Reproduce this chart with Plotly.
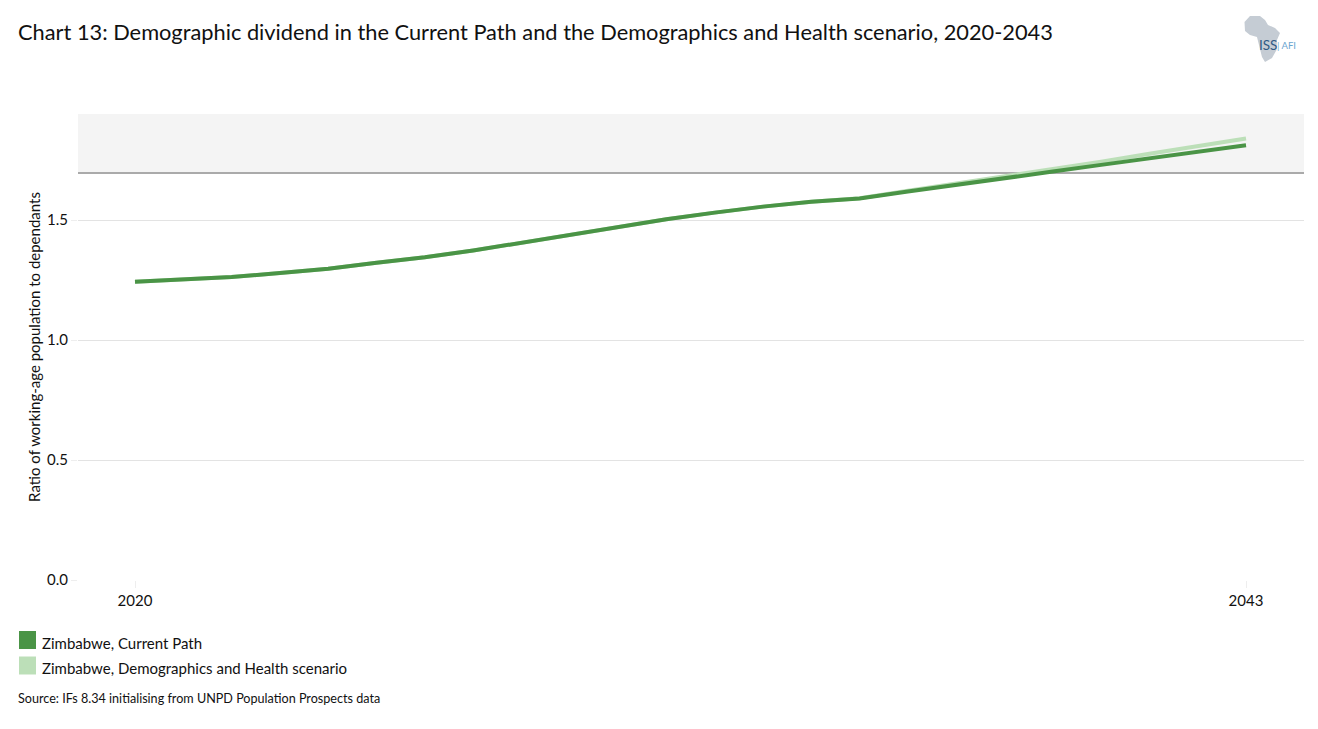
import plotly.graph_objects as go

years = list(range(2020, 2044))
current_path = [1.243, 1.253, 1.263, 1.279, 1.297, 1.322, 1.345, 1.373, 1.406, 1.439, 1.472, 1.503,
                1.531, 1.556, 1.576, 1.590, 1.619, 1.648, 1.674, 1.702, 1.730, 1.757, 1.784, 1.812]
demo_health = [1.243, 1.253, 1.263, 1.279, 1.297, 1.322, 1.345, 1.373, 1.406, 1.439, 1.472, 1.503,
               1.531, 1.556, 1.576, 1.591, 1.622, 1.652, 1.681, 1.711, 1.743, 1.776, 1.808, 1.840]
y_ticks = [0, 0.5, 1.0, 1.5]
y_labels = ["0.0", "0.5", "1.0", "1.5"]
x_ticks = [2020, 2043]
threshold = 1.696
names = ["Zimbabwe, Current Path", "Zimbabwe, Demographics and Health scenario"]
title = "Chart 13: Demographic dividend in the Current Path and the Demographics and Health scenario, 2020-2043"
source = "Source: IFs 8.34 initialising from UNPD Population Prospects data"
y_title = "Ratio of working-age population to dependants"

W, H = 1318, 729
L, R, T, B = 78, 1304, 114, 580
FONT = "Lato"
DARK, LIGHT = "#4a9446", "#bcdfb8"
Y_MAX = 1.942


def px(x):
    return (x - L) / (R - L)


def py(y):
    return (B - y) / (B - T)


fig = go.Figure()
fig.add_trace(go.Scatter(x=years, y=demo_health, name=names[1], mode="lines",
                         line=dict(color=LIGHT, width=4)))
fig.add_trace(go.Scatter(x=years, y=current_path, name=names[0], mode="lines",
                         line=dict(color=DARK, width=4)))

shapes = [
    dict(type="rect", xref="paper", yref="y", x0=0, x1=1, y0=threshold, y1=Y_MAX,
         fillcolor="#f4f4f4", line_width=0, layer="below"),
    dict(type="line", xref="paper", yref="y", x0=0, x1=1, y0=threshold, y1=threshold,
         line=dict(color="#aaaaaa", width=2), layer="below"),
]
for i, c in enumerate([DARK, LIGHT]):
    y0 = 631 + i * 25.5
    shapes.append(dict(type="rect", xref="paper", yref="paper", x0=px(19), x1=px(36), y0=py(y0), y1=py(y0 + 18),
                       fillcolor=c, line_width=0))

africa = [(1244.5, 22), (1250, 16), (1260, 16), (1265, 20), (1268, 25), (1275, 28), (1280, 33), (1277, 40),
          (1276.5, 50), (1272, 58), (1265, 62), (1262, 57), (1259, 45), (1257, 37), (1250, 35), (1245, 31)]
path = "M " + " L ".join(f"{px(a):.5f},{py(b):.5f}" for a, b in africa) + " Z"
shapes.append(dict(type="path", xref="paper", yref="paper", path=path, fillcolor="#c5ccd4", line_width=0))


def note(text, x, y, size, color="#111111", **kw):
    return dict(text=text, xref="paper", yref="paper", x=px(x), y=py(y), showarrow=False, xanchor="left",
                yanchor="middle", font=dict(family=FONT, size=size, color=color), **kw)


annotations = [
    note(title, 16, 31, 21.8),
    note(names[0], 40, 643, 15),
    note(names[1], 40, 668, 15),
    note(source, 16, 698.5, 12.6),
    note("ISS", 1257, 45, 13.5, "#2f5a85"),
    note("| AFI", 1275, 45, 9.5, "#6ba6d0"),
]

fig.update_layout(
    width=W, height=H, autosize=False,
    margin=dict(l=L, r=W - R, t=T, b=H - B),
    paper_bgcolor="white", plot_bgcolor="white",
    showlegend=False,
    font=dict(family=FONT, size=14, color="#111111"),
    shapes=shapes, annotations=annotations,
    xaxis=dict(range=[2018.82, 2044.2], tickvals=x_ticks, ticktext=[str(v) for v in x_ticks], showgrid=False,
               zeroline=False, ticks="outside", ticklen=7, tickcolor="#eeeeee", showline=False,
               tickfont=dict(size=15, family=FONT)),
    yaxis=dict(range=[0, Y_MAX], tickvals=y_ticks, ticktext=y_labels, gridcolor="#e3e3e3", gridwidth=1,
               zeroline=True, zerolinecolor="white", ticks="outside", ticklen=6, tickcolor="#eeeeee",
               tickfont=dict(size=15, family=FONT),
               title=dict(text=y_title, font=dict(size=15, family=FONT), standoff=2)),
)
fig.write_html("out.html", config=dict(displayModeBar=False),
               post_script="document.body.style.margin='0';document.body.style.overflow='hidden';")
